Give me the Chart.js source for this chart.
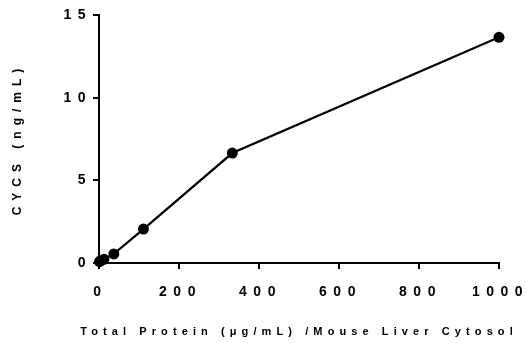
<!DOCTYPE html>
<html>
<head>
<meta charset="utf-8">
<script src="https://cdn.jsdelivr.net/npm/chart.js@4"></script>
<style>
    html, body { margin: 0; padding: 0; background: #fff; }
    #wrap { width: 526px; height: 343px; }
</style>
</head>
<body>
<div id="wrap"><canvas id="curve" width="526" height="343"></canvas></div>
<script>
// valores (dilucion 1:3)
const protein = [1.37, 4.12, 12.35, 37.04, 111.1, 333.3, 1000];
const cycs = [0.08, 0.15, 0.22, 0.55, 2.05, 6.65, 13.65];
const xTicks = [0, 200, 400, 600, 800, 1000];
const yTicks = [0, 5, 10, 15];
const xTitleText = 'Total Protein (μg/mL) /Mouse Liver Cytosol';
const yTitleText = 'CYCS (ng/mL)';

const fontFamily = "'Liberation Sans', Arial, sans-serif";

// espaciado de letras: titulo Y antes de los datos, etiquetas despues (ticks.z = 1)
const letterSpacing = {
    id: 'letterSpacing',
    beforeLayout(chart) { chart.ctx.letterSpacing = '6.5px'; },
    beforeDraw(chart) { chart.ctx.letterSpacing = '6px'; },
    afterDatasetsDraw(chart) { chart.ctx.letterSpacing = '6.5px'; },
};

// titulo X dibujado aparte: el de la escala se comprime a 400px (maxWidth)
const xTitle = {
    id: 'xTitle',
    afterDraw(chart) {
        const { ctx, chartArea } = chart;
        ctx.save();
        ctx.letterSpacing = '5.1px';
        ctx.font = 'bold 11px ' + fontFamily;
        ctx.fillStyle = '#000';
        ctx.textAlign = 'center';
        ctx.textBaseline = 'middle';
        ctx.fillText(xTitleText, (chartArea.left + chartArea.right) / 2, chart.height - 11);
        ctx.restore();
    },
};

const canvas = document.getElementById('curve');

new Chart(canvas, {
    type: 'scatter',
    data: {
        datasets: [{
            data: protein.map((x, i) => ({ x: x, y: cycs[i] })),
            showLine: true,
            borderColor: '#000',
            borderWidth: 2.2,
            pointRadius: 5.5,
            pointBackgroundColor: '#000',
            pointBorderColor: '#000',
            pointBorderWidth: 0,
            clip: false,
        }],
    },
    options: {
        responsive: false,
        devicePixelRatio: 1,
        animation: false,
        layout: { padding: { left: 0, right: 27, top: 15, bottom: 0 } },
        plugins: {
            legend: { display: false },
            tooltip: { enabled: false },
        },
        scales: {
            x: {
                type: 'linear',
                min: 0,
                max: 1000,
                afterBuildTicks: (s) => { s.ticks = xTicks.map(v => ({ value: v })); },
                afterFit: (s) => { s.height = 80; s.paddingLeft = 0; s.paddingRight = 0; },
                grid: { drawOnChartArea: false, drawTicks: true, tickLength: 6, lineWidth: 2, color: '#000' },
                border: { display: true, color: '#000', width: 2 },
                ticks: {
                    z: 1,
                    color: '#000',
                    padding: 15,
                    labelOffset: 1.5,
                    maxRotation: 0,
                    callback: (v) => String(v),
                    font: { family: fontFamily, size: 14, weight: 'bold' },
                },
                title: { display: false },
            },
            y: {
                type: 'linear',
                min: 0,
                max: 15,
                afterBuildTicks: (s) => { s.ticks = yTicks.map(v => ({ value: v })); },
                afterFit: (s) => { s.width = 99; s.paddingTop = 0; s.paddingBottom = 0; },
                grid: { drawOnChartArea: false, drawTicks: true, tickLength: 6, lineWidth: 2, color: '#000' },
                border: { display: true, color: '#000', width: 2 },
                ticks: {
                    z: 1,
                    color: '#000',
                    padding: 1,
                    callback: (v) => String(v),
                    font: { family: fontFamily, size: 14, weight: 'bold' },
                },
                title: {
                    display: true,
                    text: yTitleText,
                    color: '#000',
                    font: { family: fontFamily, size: 12, weight: 'bold' },
                    padding: { top: 10, bottom: 0 },
                },
            },
        },
    },
    plugins: [letterSpacing, xTitle],
});
</script>
</body>
</html>
